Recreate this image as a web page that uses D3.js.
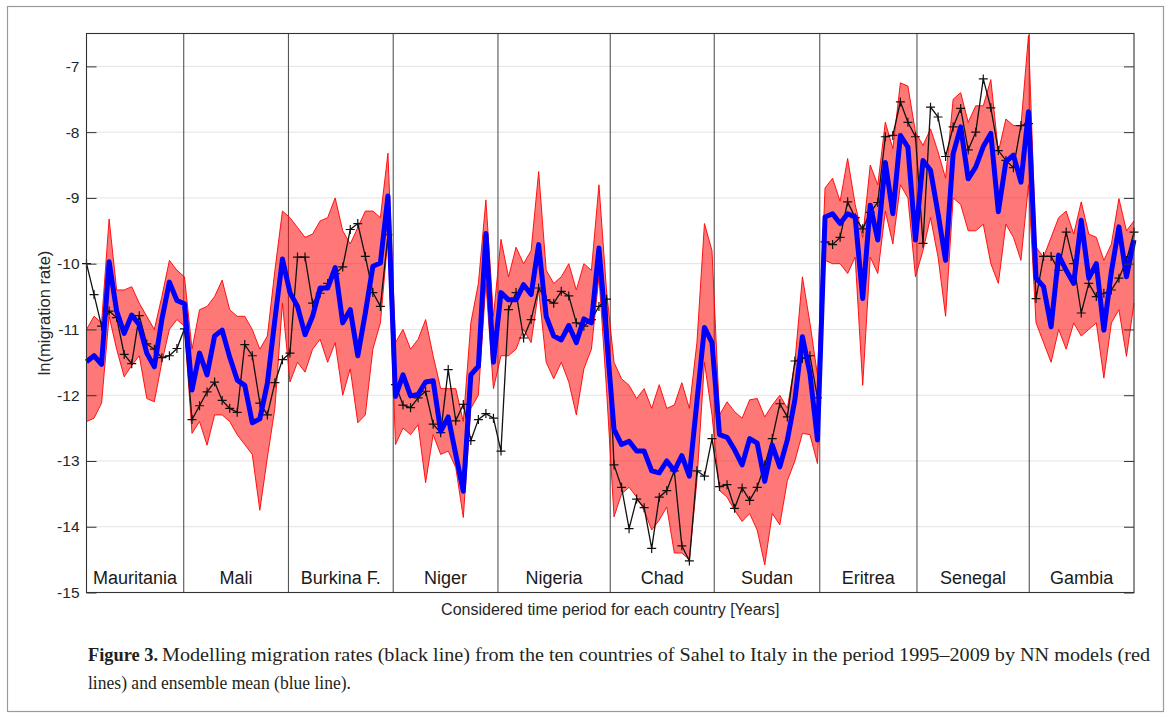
<!DOCTYPE html>
<html>
<head>
<meta charset="utf-8">
<script src="https://cdn.jsdelivr.net/npm/d3@7"></script>
<style>
  body { margin: 0; background: #fff; }
  svg { display: block; font-family: 'Liberation Sans', Arial, Helvetica, sans-serif; }
</style>
</head>
<body>
<div id="chart"></div>
<script>
// ten Sahel countries, 14 yearly points each (140 in total)
const countries = ['Mauritania', 'Mali', 'Burkina F.', 'Niger', 'Nigeria',
  'Chad', 'Sudan', 'Eritrea', 'Senegal', 'Gambia'];

// separator positions, in point index units
const dividers = [12.9, 26.8, 40.7, 54.6, 69.5, 83.3, 97.3, 110.2, 125.1];

const yTicks = [-15, -14, -13, -12, -11, -10, -9, -8, -7];

// observed ln(migration rate), black line
const observed = [
  -10.0, -10.47, -10.95, -10.72, -10.82, -11.38, -11.52, -10.79, -11.22, -11.3, -11.43, -11.4, -11.29, -10.99,
  -12.37, -12.16, -11.95, -11.8, -12.08, -12.2, -12.26, -11.23, -11.4, -12.12, -12.3, -11.81, -11.46, -11.36,
  -9.9, -9.9, -10.6, -10.45, -10.3, -10.15, -10.05, -9.48, -9.39, -9.89, -10.44, -10.65, -9.56,
  -11.84, -12.15, -12.19, -12.04, -11.94, -12.44, -12.57, -11.61, -12.39, -12.14, -12.69, -12.37, -12.28, -12.35,
  -12.85, -10.7, -10.44, -11.13, -10.85, -10.37, -10.55, -10.6, -10.42, -10.49, -10.9, -10.95, -10.85, -10.65,
  -10.54,
  -13.06, -13.4, -14.03, -13.58, -13.71, -14.33, -13.55, -13.45, -13.15, -14.29, -14.52, -13.15, -13.23, -12.66,
  -13.39, -13.36, -13.72, -13.41, -13.6, -13.4, -13.06, -12.66, -12.13, -12.33, -11.48, -11.44, -11.4, -12.04,
  -9.67, -9.71, -9.6, -9.06, -9.3, -9.47, -9.22, -9.07, -8.07, -8.05, -7.54, -7.85, -8.07,
  -9.69, -7.62, -7.77, -8.37, -7.92, -7.64, -8.27, -8.0, -7.19, -7.63, -8.28, -8.43, -8.54, -7.9, -7.87,
  -10.53, -9.89, -9.89, -10.1, -9.52, -10.0, -10.75, -10.3, -10.5, -10.45, -10.4, -10.22, -9.95, -9.52
];

// ensemble mean of the NN models, blue line
const ensembleMean = [
  -11.49, -11.4, -11.53, -9.97, -10.72, -11.06, -10.78, -10.93, -11.36, -11.57, -10.85, -10.28, -10.56, -10.61,
  -11.92, -11.36, -11.69, -11.1, -11.01, -11.42, -11.77, -11.85, -12.42, -12.36, -11.82, -10.85, -9.93, -10.44,
  -10.65, -11.08, -10.8, -10.37, -10.37, -10.06, -10.9, -10.7, -11.4, -10.75, -10.04, -9.99, -8.97,
  -12.02, -11.69, -12.01, -11.99, -11.8, -11.78, -12.55, -12.33, -12.9, -13.46, -11.69, -11.56, -9.54, -11.5,
  -10.44, -10.55, -10.55, -10.32, -10.47, -9.71, -10.8, -11.1, -11.16, -10.94, -11.2, -10.84, -10.9, -9.76,
  -11.1,
  -12.52, -12.75, -12.7, -12.85, -12.85, -13.15, -13.18, -13.0, -13.15, -12.92, -13.23, -12.1, -10.97, -11.2,
  -12.6, -12.64, -12.83, -13.06, -12.66, -12.73, -13.31, -12.76, -13.09, -12.68, -12.07, -11.11, -11.67, -12.68,
  -9.29, -9.24, -9.39, -9.24, -9.29, -10.53, -9.11, -9.64, -8.46, -9.24, -8.05, -8.23, -9.64,
  -8.43, -8.58, -9.24, -9.95, -8.33, -7.92, -8.71, -8.53, -8.22, -8.02, -9.21, -8.45, -8.35, -8.76, -7.69,
  -10.22, -10.35, -10.96, -9.87, -10.1, -10.3, -9.34, -10.22, -10.0, -11.01, -10.12, -9.44, -10.2, -9.64
];

// upper and lower edge of the bundle of NN model runs, red lines
const nnHigh = [
  -11.0, -10.8, -10.9, -9.32, -10.4, -10.4, -10.35, -10.6, -10.8, -11.0, -10.5, -9.95, -10.1, -10.2,
  -11.3, -10.7, -10.65, -10.5, -10.25, -10.7, -10.8, -10.8, -11.0, -11.3, -11.1, -10.1, -9.2, -9.3,
  -9.45, -9.6, -9.55, -9.35, -9.3, -9.0, -9.5, -9.7, -9.45, -9.2, -9.2, -9.3, -8.32,
  -11.2, -11.0, -11.3, -11.15, -10.85, -11.4, -11.9, -11.9, -11.9, -12.4, -10.9, -10.3, -9.03, -10.8,
  -9.63, -10.2, -9.75, -10.0, -9.8, -8.6, -10.1, -10.3, -10.2, -10.0, -10.4, -10.0, -10.1, -8.8,
  -10.4,
  -11.5, -11.75, -11.85, -12.05, -11.9, -12.2, -11.84, -12.2, -12.15, -11.81, -12.2, -11.2, -9.39, -9.8,
  -12.3, -12.1, -12.25, -12.35, -12.07, -12.05, -12.33, -12.15, -12.0, -12.2, -11.5, -10.2, -10.9, -11.7,
  -8.85, -8.7, -9.05, -8.4, -9.1, -9.6, -8.5, -8.8, -7.85, -8.25, -7.25, -7.3, -8.0,
  -8.2, -7.95, -8.3, -8.7, -7.5, -7.4, -7.85, -7.6, -7.6, -7.2, -8.3, -7.8, -7.9, -7.9, -6.53,
  -9.75, -9.9, -9.6, -9.3, -9.2, -9.55, -9.06, -9.55, -9.6, -9.95, -9.7, -9.01, -9.5, -9.35
];
const nnLow = [
  -12.4, -12.35, -12.12, -10.8, -11.3, -11.72, -11.55, -11.4, -12.05, -12.1, -11.5, -11.0, -10.85, -10.95,
  -12.58, -12.4, -12.76, -12.3, -12.3, -12.4, -12.6, -12.75, -12.9, -13.75, -12.95, -12.2, -10.6, -11.8,
  -11.5, -11.65, -11.3, -11.15, -11.5, -11.2, -12.0, -11.6, -12.42, -12.3, -11.3, -10.9, -9.6,
  -12.75, -12.5, -12.6, -12.45, -13.33, -12.6, -12.9, -12.85, -13.1, -13.86, -12.2, -12.0, -10.3, -11.9,
  -11.4, -11.4, -11.3, -11.0, -11.2, -10.4, -11.5, -11.75, -11.5, -11.8, -12.3, -11.6, -11.3, -10.2,
  -11.9,
  -13.85, -13.5, -13.4, -13.55, -13.75, -14.05, -13.9, -13.7, -14.4, -14.4, -14.5, -13.3, -11.5, -12.3,
  -13.45, -13.55, -13.75, -13.92, -13.8, -14.05, -14.58, -13.8, -13.97, -13.3, -13.0, -12.58, -12.6, -13.04,
  -9.95, -10.0, -10.0, -10.15, -9.9, -11.85, -9.9, -10.15, -9.2, -9.7, -8.8, -9.0, -10.2,
  -9.8, -9.3, -9.9, -10.8, -9.0, -9.1, -9.5, -9.5, -9.4, -10.0, -10.3, -9.4, -9.6, -9.95, -8.8,
  -10.9, -11.2, -11.5, -11.0, -11.3, -10.9, -11.1, -11.0, -10.9, -11.74, -10.9, -10.7, -11.41, -10.6
];

function sahelChart(options) {
  const id = '#' + options.id;
  const svg_width = options.width || 1171;
  const svg_height = options.height || 717;

  const margin = {
      top: 33.5,
      right: 37,
      bottom: 124,
      left: 86.5
    },
    width = svg_width - margin.left - margin.right,
    height = 559;

  d3.select(id).selectAll('*').remove();
  const root = d3.select(id)
    .append('svg')
    .attr('width', svg_width)
    .attr('height', svg_height);

  root.append('rect')
    .attr('width', svg_width)
    .attr('height', svg_height)
    .attr('fill', '#fff');

  // frame round the whole figure
  root.append('rect')
    .attr('x', 7.5)
    .attr('y', 6.5)
    .attr('width', 1156)
    .attr('height', 705)
    .attr('fill', 'none')
    .attr('stroke', '#9a9a9a')
    .attr('stroke-width', 1.2);

  const svg = root.append('g')
    .attr('transform', 'translate(' + margin.left + ',' + margin.top + ')');

  const x = d3.scaleLinear()
    .domain([0, observed.length - 1])
    .range([0, width]);

  const y = d3.scaleLinear()
    .domain([-15, -6.5])
    .range([height, 0]);

  // horizontal grid
  svg.append('g')
    .selectAll('line')
    .data(yTicks.slice(1))
    .enter()
    .append('line')
    .attr('x1', 0)
    .attr('x2', width)
    .attr('y1', function (d) { return y(d); })
    .attr('y2', function (d) { return y(d); })
    .attr('stroke', '#e3e3e3')
    .attr('stroke-width', 1);

  // country separators
  svg.append('g')
    .selectAll('line')
    .data(dividers)
    .enter()
    .append('line')
    .attr('x1', function (d) { return x(d); })
    .attr('x2', function (d) { return x(d); })
    .attr('y1', 0)
    .attr('y2', height)
    .attr('stroke', '#555')
    .attr('stroke-width', 1.1);

  const idx = d3.range(observed.length);

  // NN models: band between the upper and lower runs
  const band = d3.area()
    .x(function (i) { return x(i); })
    .y0(function (i) { return y(nnLow[i]); })
    .y1(function (i) { return y(nnHigh[i]); });

  svg.append('path')
    .datum(idx)
    .attr('d', band)
    .attr('fill', '#ff0a0a')
    .attr('fill-opacity', 0.55);

  [nnHigh, nnLow].forEach(function (series) {
    svg.append('path')
      .datum(idx)
      .attr('d', d3.line()
        .x(function (i) { return x(i); })
        .y(function (i) { return y(series[i]); }))
      .attr('fill', 'none')
      .attr('stroke', '#ff0000')
      .attr('stroke-opacity', 0.9)
      .attr('stroke-width', 1);
  });

  // observed rates
  svg.append('path')
    .datum(idx)
    .attr('d', d3.line()
      .x(function (i) { return x(i); })
      .y(function (i) { return y(observed[i]); }))
    .attr('fill', 'none')
    .attr('stroke', '#111')
    .attr('stroke-width', 1.3);

  svg.append('g')
    .selectAll('path')
    .data(idx)
    .enter()
    .append('path')
    .attr('transform', function (i) {
      return 'translate(' + x(i) + ',' + y(observed[i]) + ')';
    })
    .attr('d', 'M-4.5,0H4.5M0,-4.5V4.5')
    .attr('stroke', '#111')
    .attr('stroke-width', 1.2);

  // ensemble mean
  svg.append('path')
    .datum(idx)
    .attr('d', d3.line()
      .x(function (i) { return x(i); })
      .y(function (i) { return y(ensembleMean[i]); }))
    .attr('fill', 'none')
    .attr('stroke', '#0000ff')
    .attr('stroke-width', 5)
    .attr('stroke-linejoin', 'round');

  // box and axes
  svg.append('rect')
    .attr('width', width)
    .attr('height', height)
    .attr('fill', 'none')
    .attr('stroke', '#333')
    .attr('stroke-width', 1.1);

  const yAxis = svg.append('g')
    .call(d3.axisLeft(y)
      .tickValues(yTicks)
      .tickSize(-10)
      .tickPadding(7)
      .tickFormat(function (d) { return String(d); }));
  yAxis.select('.domain').remove();
  yAxis.selectAll('line').attr('stroke', '#333');
  yAxis.selectAll('text')
    .attr('fill', '#262626')
    .style('font-size', '15.5px')
    .style('font-family', "'Liberation Sans', Arial, sans-serif");

  const yAxisRight = svg.append('g')
    .attr('transform', 'translate(' + width + ',0)')
    .call(d3.axisRight(y)
      .tickValues(yTicks)
      .tickSize(-10)
      .tickFormat(''));
  yAxisRight.select('.domain').remove();
  yAxisRight.selectAll('line').attr('stroke', '#333');

  // country names
  const bounds = [0].concat(dividers, [observed.length - 1]);
  svg.append('g')
    .selectAll('text')
    .data(countries)
    .enter()
    .append('text')
    .attr('x', function (d, k) { return x((bounds[k] + bounds[k + 1]) / 2); })
    .attr('y', height - 9)
    .attr('text-anchor', 'middle')
    .style('font-size', '18px')
    .attr('fill', '#1a1a1a')
    .text(function (d) { return d; });

  svg.append('text')
    .attr('x', width / 2)
    .attr('y', height + 22)
    .attr('text-anchor', 'middle')
    .style('font-size', '16px')
    .attr('fill', '#262626')
    .text('Considered time period for each country [Years]');

  svg.append('text')
    .attr('transform', 'rotate(-90)')
    .attr('x', -(313 - margin.top))
    .attr('y', 50 - margin.left)
    .attr('text-anchor', 'middle')
    .style('font-size', '16.5px')
    .attr('fill', '#262626')
    .text('ln(migration rate)');

  // caption
  const caption = root.append('g')
    .style('font-family', "'Liberation Serif', 'Times New Roman', serif")
    .style('font-size', '18px')
    .attr('fill', '#231f20');

  caption.append('text')
    .attr('x', 88)
    .attr('y', 661)
    .attr('font-weight', 'bold')
    .attr('textLength', 70)
    .attr('lengthAdjust', 'spacingAndGlyphs')
    .text('Figure 3.');

  caption.append('text')
    .attr('x', 162)
    .attr('y', 661)
    .attr('textLength', 988)
    .attr('lengthAdjust', 'spacingAndGlyphs')
    .text('Modelling migration rates (black line) from the ten countries of Sahel to Italy in the period 1995\u20132009 by NN models (red');

  caption.append('text')
    .attr('x', 88)
    .attr('y', 689)
    .attr('textLength', 263)
    .attr('lengthAdjust', 'spacingAndGlyphs')
    .text('lines) and ensemble mean (blue line).');

  return { svg: svg, x: x, y: y };
}

sahelChart({ id: 'chart', width: 1171, height: 717 });
</script>
</body>
</html>
